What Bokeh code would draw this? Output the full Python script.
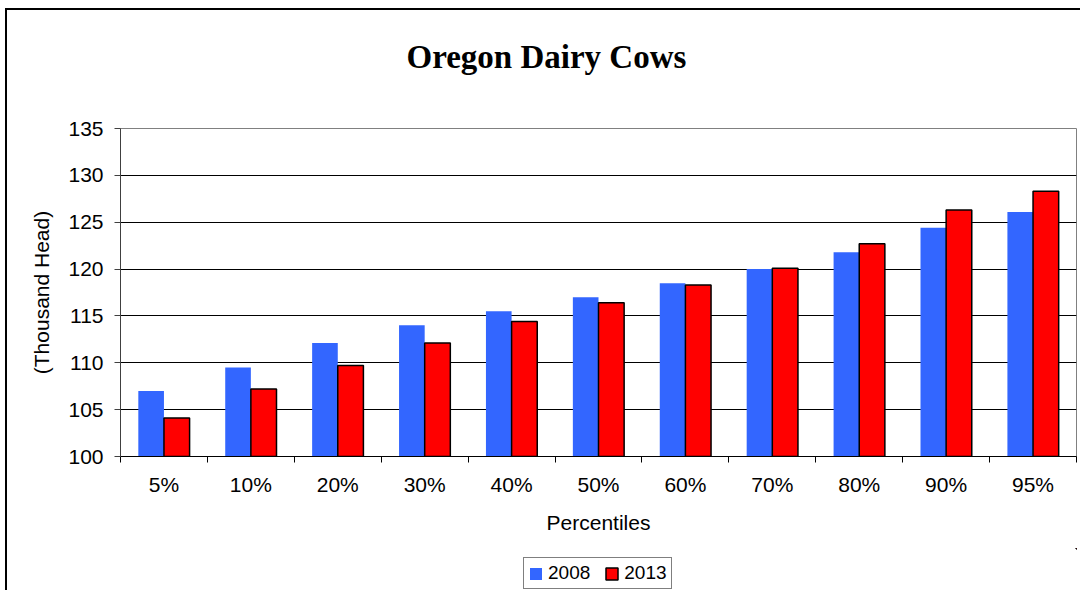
from bokeh.plotting import figure
from bokeh.layouts import column
from bokeh.models import Range1d, FixedTicker, Legend, LegendItem, ColumnDataSource
from bokeh.transform import dodge
from bokeh.embed import file_html
from bokeh.resources import INLINE

categories = ["5%", "10%", "20%", "30%", "40%", "50%", "60%", "70%", "80%", "90%", "95%"]
cows_2008 = [107.0, 109.5, 112.1, 114.0, 115.5, 117.0, 118.5, 120.0, 121.8, 124.4, 126.1]
cows_2013 = [104.1, 107.2, 109.7, 112.1, 114.4, 116.4, 118.3, 120.1, 122.7, 126.3, 128.3]
series_names = ["2008", "2013"]
y_ticks = [100, 105, 110, 115, 120, 125, 130, 135]

FONT = "Liberation Sans"
BLUE = "#3366FF"
RED = "#FF0000"

n = len(categories)
centers = [i + 0.5 for i in range(n)]
bar_w = 0.295

src = ColumnDataSource(dict(center=centers, label=categories,
                            v2008=cows_2008, v2013=cows_2013))

# Chart-area border (top and left edges) painted as the host background
main_bg = {"background": "linear-gradient(#000,#000) 5px 8px / 2px 100% no-repeat, "
                         "linear-gradient(#000,#000) 5px 8px / 100% 2px no-repeat, #fff"}
leg_bg = {"background": "linear-gradient(#000,#000) 5px 0px / 2px 100% no-repeat, #fff"}

p = figure(width=1080, height=548,
           x_range=Range1d(0, n), y_range=Range1d(y_ticks[0], y_ticks[-1]),
           output_backend="svg", toolbar_location=None,
           min_border_left=120, min_border_right=4,
           min_border_top=128, min_border_bottom=92,
           background_fill_color="white", border_fill_alpha=0,
           styles=main_bg)

r1 = p.vbar(x=dodge("center", -bar_w / 2), top="v2008", bottom=y_ticks[0], width=bar_w,
            source=src, fill_color=BLUE, line_color=None)
r2 = p.vbar(x=dodge("center", bar_w / 2), top="v2013", bottom=y_ticks[0], width=bar_w,
            source=src, fill_color=RED, line_color="black", line_width=1.5)

# Title
p.title.text = "Oregon Dairy Cows"
p.title.align = "left"
p.title.offset = 286
p.title.standoff = 72
p.title.padding = dict(left=0, right=0, top=0, bottom=18)
p.title.text_font = "Liberation Serif"
p.title.text_font_size = "33px"
p.title.text_font_style = "bold"
p.title.text_color = "black"

# X axis
xa = p.xaxis[0]
xa.ticker = FixedTicker(ticks=centers, minor_ticks=list(range(n + 1)))
xa.major_label_overrides = {c: lab for c, lab in zip(centers, categories)}
xa.major_tick_line_color = None
xa.major_tick_out = 6
xa.major_tick_in = 0
xa.minor_tick_line_color = "black"
xa.minor_tick_out = 6
xa.minor_tick_in = 0
xa.axis_line_color = "black"
xa.major_label_text_font = FONT
xa.major_label_text_font_size = "21px"
xa.major_label_text_color = "black"
xa.major_label_standoff = 10
xa.axis_label = "Percentiles"
xa.axis_label_text_font = FONT
xa.axis_label_text_font_size = "21px"
xa.axis_label_text_font_style = "normal"
xa.axis_label_text_color = "black"
xa.axis_label_standoff = 12

# Y axis
ya = p.yaxis[0]
ya.ticker = FixedTicker(ticks=y_ticks)
ya.major_tick_out = 6
ya.major_tick_in = 0
ya.minor_tick_line_color = None
ya.major_tick_line_color = "#404040"
ya.axis_line_color = "#404040"
ya.major_label_text_font = FONT
ya.major_label_text_font_size = "21px"
ya.major_label_text_color = "black"
ya.major_label_standoff = 11
ya.axis_label = "(Thousand Head)"
ya.axis_label_text_font = FONT
ya.axis_label_text_font_size = "21px"
ya.axis_label_text_font_style = "normal"
ya.axis_label_text_color = "black"
ya.axis_label_standoff = 12

# Grid
p.xgrid.visible = False
p.ygrid.ticker = FixedTicker(ticks=y_ticks[1:-1])
p.ygrid.grid_line_color = "black"
p.ygrid.grid_line_width = 1
p.outline_line_color = "#808080"
p.outline_line_width = 1

# Legend strip below the chart; its renderers use the same data but lie far
# outside this strip's x and y ranges, so only their legend swatches show.
p_leg = figure(width=1080, height=42, x_range=Range1d(-3 * n, -2 * n), y_range=Range1d(0, 1),
               output_backend="svg", toolbar_location=None,
               x_axis_type=None, y_axis_type=None,
               min_border=0, min_border_left=0, min_border_right=0,
               min_border_top=0, min_border_bottom=0,
               background_fill_alpha=0, border_fill_alpha=0,
               outline_line_color=None, styles=leg_bg)
p_leg.xgrid.visible = False
p_leg.ygrid.visible = False
lr1 = p_leg.vbar(x=dodge("center", -bar_w / 2), top="v2008", bottom=y_ticks[0], width=bar_w,
                 source=src, fill_color=BLUE, line_color=None)
lr2 = p_leg.vbar(x=dodge("center", bar_w / 2), top="v2013", bottom=y_ticks[0], width=bar_w,
                 source=src, fill_color=RED, line_color="black", line_width=1.5)

legend = Legend(items=[LegendItem(label=series_names[0], renderers=[lr1]),
                       LegendItem(label=series_names[1], renderers=[lr2])],
                orientation="horizontal", location=(403, 1),
                border_line_color="black", border_line_width=1,
                background_fill_color="white", background_fill_alpha=1,
                label_text_font=FONT, label_text_font_size="19px",
                label_text_color="black",
                glyph_width=15, glyph_height=15, label_standoff=5,
                spacing=14, padding=4, margin=0)
p_leg.add_layout(legend)

layout = column(p, p_leg, spacing=0)

open("out.html", "w").write(file_html(layout, INLINE))
